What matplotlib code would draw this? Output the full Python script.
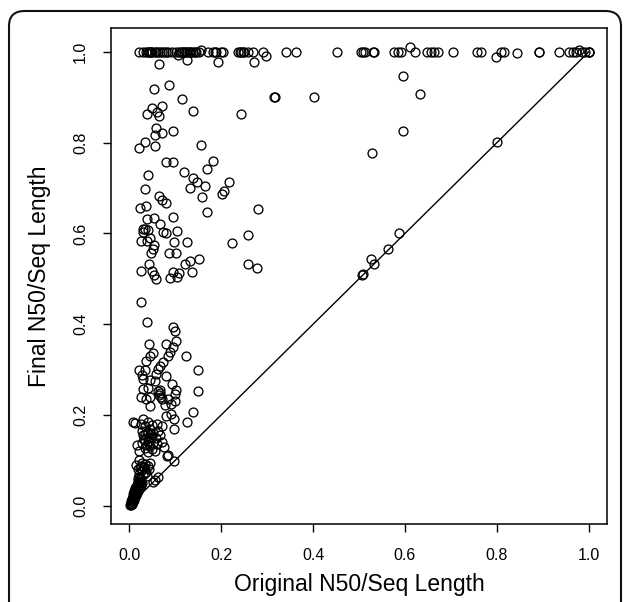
import matplotlib
matplotlib.use("Agg")
import matplotlib.pyplot as plt
from matplotlib.patches import FancyBboxPatch

plt.rcParams['font.family'] = ['Liberation Sans', 'DejaVu Sans']

# points sitting on (or very near) final ratio 1.0
top_x = [0.020, 0.030, 0.037, 0.040, 0.042, 0.045, 0.048, 0.050, 0.055, 0.058, 0.062, 0.066,
         0.070, 0.075, 0.080, 0.084, 0.092, 0.102, 0.106, 0.109, 0.112, 0.115, 0.118, 0.120,
         0.123, 0.126, 0.129, 0.131, 0.135, 0.138, 0.142, 0.146, 0.151, 0.157, 0.171, 0.182,
         0.186, 0.189, 0.200, 0.204, 0.236, 0.240, 0.243, 0.247, 0.250, 0.258, 0.269, 0.291,
         0.298, 0.341, 0.363, 0.452, 0.504, 0.508, 0.512, 0.530, 0.533, 0.577, 0.584, 0.591,
         0.612, 0.622, 0.649, 0.657, 0.664, 0.671, 0.704, 0.758, 0.765, 0.798, 0.809, 0.816,
         0.845, 0.892, 0.893, 0.936, 0.957, 0.965, 0.972, 0.979, 0.986, 0.993, 1.000, 1.000]
top_y = [1.000, 1.000, 1.000, 1.000, 1.000, 1.000, 1.000, 1.000, 1.000, 1.000, 1.000, 1.000,
         1.000, 1.000, 1.000, 1.000, 1.000, 1.000, 0.993, 1.000, 1.000, 1.000, 1.000, 1.000,
         1.000, 1.000, 1.000, 1.000, 1.000, 1.000, 1.000, 1.000, 1.000, 1.005, 1.000, 1.000,
         1.000, 1.000, 1.000, 1.000, 1.000, 1.000, 1.000, 1.000, 1.000, 1.000, 1.000, 1.000,
         0.992, 1.000, 1.000, 1.000, 1.000, 1.000, 1.000, 1.000, 1.000, 1.000, 1.000, 1.000,
         1.012, 1.000, 1.000, 1.000, 1.000, 1.000, 1.000, 1.000, 1.000, 0.990, 1.000, 1.000,
         0.997, 1.000, 1.000, 1.000, 1.000, 1.000, 1.000, 1.004, 1.000, 1.000, 1.000, 1.000]

# upper scatter (final ratio between ~0.45 and ~0.98)
upper_x = [0.064, 0.125, 0.194, 0.272, 0.086, 0.053, 0.115, 0.316, 0.317, 0.401, 0.595, 0.633,
           0.595, 0.528, 0.050, 0.070, 0.038, 0.061, 0.064, 0.138, 0.242, 0.057, 0.070, 0.055,
           0.096, 0.034, 0.022, 0.056, 0.157, 0.079, 0.095, 0.182, 0.169, 0.041, 0.119, 0.138,
           0.148, 0.164, 0.133, 0.216, 0.207, 0.202, 0.035, 0.064, 0.072, 0.080, 0.159, 0.024,
           0.037, 0.280, 0.169, 0.038, 0.054, 0.095, 0.066, 0.030, 0.035, 0.041, 0.030, 0.073,
           0.080, 0.104, 0.025, 0.039, 0.044, 0.054, 0.051, 0.048, 0.097, 0.126, 0.224, 0.258,
           0.086, 0.101, 0.151, 0.131, 0.122, 0.043, 0.025, 0.050, 0.054, 0.059, 0.095, 0.108,
           0.089, 0.104, 0.136, 0.258, 0.278, 0.025]
upper_y = [0.974, 0.982, 0.977, 0.977, 0.927, 0.918, 0.896, 0.900, 0.900, 0.900, 0.948, 0.907,
           0.827, 0.777, 0.876, 0.881, 0.864, 0.867, 0.858, 0.869, 0.863, 0.832, 0.821, 0.818,
           0.825, 0.801, 0.788, 0.793, 0.796, 0.757, 0.757, 0.759, 0.742, 0.730, 0.735, 0.722,
           0.713, 0.705, 0.700, 0.713, 0.693, 0.686, 0.698, 0.682, 0.673, 0.667, 0.681, 0.656,
           0.660, 0.655, 0.647, 0.632, 0.634, 0.637, 0.621, 0.609, 0.609, 0.607, 0.603, 0.603,
           0.601, 0.605, 0.583, 0.583, 0.590, 0.574, 0.565, 0.558, 0.581, 0.581, 0.578, 0.596,
           0.556, 0.556, 0.543, 0.539, 0.533, 0.533, 0.517, 0.517, 0.508, 0.500, 0.514, 0.512,
           0.501, 0.505, 0.514, 0.533, 0.523, 0.449]

# lower scatter (final ratio below ~0.45)
lower_x = [0.039, 0.095, 0.100, 0.042, 0.080, 0.101, 0.095, 0.051, 0.046, 0.089, 0.084, 0.124,
           0.037, 0.073, 0.066, 0.062, 0.149, 0.022, 0.033, 0.028, 0.059, 0.079, 0.030, 0.044,
           0.055, 0.093, 0.030, 0.041, 0.066, 0.067, 0.102, 0.100, 0.149, 0.063, 0.065, 0.068,
           0.026, 0.037, 0.044, 0.070, 0.084, 0.100, 0.046, 0.077, 0.091, 0.138, 0.126, 0.013,
           0.097, 0.097, 0.091, 0.080, 0.067, 0.085, 0.083, 0.017,
           0.008, 0.025, 0.030, 0.040, 0.035, 0.050, 0.060, 0.072, 0.045, 0.028, 0.038, 0.052,
           0.062, 0.030, 0.042, 0.048, 0.035, 0.058, 0.040, 0.052, 0.028, 0.045, 0.060, 0.035,
           0.050, 0.070, 0.055, 0.040, 0.022, 0.075, 0.033, 0.043, 0.038, 0.047, 0.032, 0.041,
           0.020, 0.028, 0.035, 0.025, 0.032, 0.040, 0.018, 0.027, 0.036, 0.042, 0.022, 0.030,
           0.038, 0.015, 0.045, 0.024, 0.033, 0.019,
           0.002, 0.003, 0.004, 0.005, 0.006, 0.007, 0.008, 0.009, 0.010, 0.011, 0.012, 0.013,
           0.014, 0.015, 0.016, 0.017, 0.018, 0.019, 0.020, 0.021, 0.022, 0.023, 0.024, 0.025,
           0.026, 0.027, 0.010, 0.015, 0.020, 0.012, 0.008, 0.005, 0.018, 0.024, 0.006, 0.004,
           0.013, 0.017, 0.021, 0.009, 0.011, 0.016, 0.023, 0.007, 0.014, 0.019]
lower_y = [0.405, 0.393, 0.385, 0.356, 0.357, 0.363, 0.349, 0.336, 0.330, 0.338, 0.329, 0.329,
           0.319, 0.316, 0.308, 0.301, 0.300, 0.300, 0.299, 0.288, 0.290, 0.285, 0.279, 0.278,
           0.275, 0.268, 0.257, 0.259, 0.256, 0.248, 0.256, 0.246, 0.253, 0.252, 0.245, 0.240,
           0.239, 0.235, 0.239, 0.235, 0.235, 0.231, 0.220, 0.222, 0.224, 0.206, 0.184, 0.182,
           0.191, 0.169, 0.202, 0.198, 0.155, 0.112, 0.109, 0.133,
           0.184, 0.180, 0.190, 0.185, 0.175, 0.178, 0.180, 0.176, 0.168, 0.165, 0.160, 0.160,
           0.165, 0.155, 0.152, 0.148, 0.145, 0.150, 0.140, 0.138, 0.138, 0.132, 0.135, 0.128,
           0.125, 0.140, 0.120, 0.118, 0.120, 0.130, 0.158, 0.143, 0.133, 0.157, 0.147, 0.163,
           0.100, 0.095, 0.092, 0.088, 0.085, 0.088, 0.080, 0.078, 0.075, 0.080, 0.070, 0.068,
           0.066, 0.090, 0.095, 0.083, 0.071, 0.062,
           0.002, 0.006, 0.010, 0.004, 0.014, 0.008, 0.018, 0.012, 0.022, 0.016, 0.026, 0.020,
           0.030, 0.024, 0.034, 0.028, 0.038, 0.032, 0.042, 0.036, 0.046, 0.040, 0.050, 0.045,
           0.055, 0.050, 0.030, 0.040, 0.052, 0.035, 0.025, 0.015, 0.055, 0.060, 0.004, 0.002,
           0.038, 0.046, 0.048, 0.027, 0.033, 0.044, 0.058, 0.020, 0.036, 0.049]

# points lying on the diagonal
diag_x = [0.051, 0.055, 0.062, 0.097, 0.506, 0.508, 0.526, 0.533, 0.564, 0.588, 0.801, 1.000]
diag_y = [0.053, 0.056, 0.064, 0.098, 0.508, 0.510, 0.543, 0.533, 0.566, 0.600, 0.801, 1.000]

ticks = [0.0, 0.2, 0.4, 0.6, 0.8, 1.0]
tick_labels = ['0.0', '0.2', '0.4', '0.6', '0.8', '1.0']

fig = plt.figure(figsize=(6.27, 6.02), dpi=100)
ax = fig.add_axes([111 / 627, 78 / 602, 496 / 627, 496 / 602])

# outer rounded frame (cut by the bottom of the image)
frame = FancyBboxPatch((9 / 627, -0.2), 612 / 627, 1.2 - 11 / 602,
                       boxstyle="round,pad=0,rounding_size=0.025",
                       transform=fig.transFigure, fill=False,
                       edgecolor='#111111', linewidth=1.5)
fig.patches.append(frame)

all_x = top_x + upper_x + lower_x + diag_x
all_y = top_y + upper_y + lower_y + diag_y
ax.plot(all_x, all_y, linestyle='none', marker='o', markersize=6.4,
        markerfacecolor='none', markeredgecolor='black', markeredgewidth=0.95)
ax.plot([0, 1], [0, 1], color='black', linewidth=1.0)

ax.set_xlim(-0.04, 1.04)
ax.set_ylim(-0.0405, 1.053)
ax.set_xticks(ticks)
ax.set_xticklabels(tick_labels)
ax.set_yticks(ticks)
ax.set_yticklabels(tick_labels, rotation=90, va='center')
ax.tick_params(direction='out', length=5.5, width=1.0, labelsize=11.5, colors='black')
ax.tick_params(axis='x', pad=12)
ax.tick_params(axis='y', pad=11)
for s in ax.spines.values():
    s.set_linewidth(1.1)

fig.text(359 / 627, 1 - 585 / 602, 'Original N50/Seq Length', fontsize=16.5,
         ha='center', va='center')
fig.text(40 / 627, 1 - 276 / 602, 'Final N50/Seq Length', fontsize=16.5,
         ha='center', va='center', rotation=90)

fig.savefig('out.png', dpi=100)
